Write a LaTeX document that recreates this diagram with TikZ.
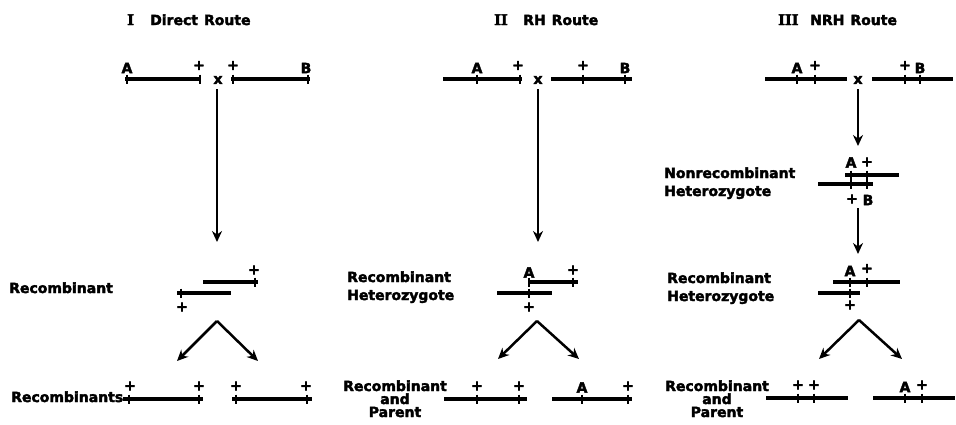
\documentclass[tikz,border=0pt]{standalone}
\usepackage{fontspec}
\setmainfont{DejaVu Sans}
\newfontfamily\hv{DejaVu Sans}[BoldFeatures={FakeBold=2.6}]
\newfontfamily\romannum{DejaVu Serif}[BoldFeatures={FakeBold=2.6}]
\usetikzlibrary{arrows.meta}

\begin{document}
\begin{tikzpicture}[x=1pt,y=-1pt,
  lbl/.style={font=\fontsize{14}{16}\selectfont\hv\bfseries, inner sep=0pt, anchor=base west},
  lblc/.style={font=\fontsize{14}{16}\selectfont\hv\bfseries, inner sep=0pt, anchor=base},
  num/.style={font=\fontsize{14.5}{16}\selectfont\romannum\bfseries, inner sep=0pt, anchor=base west},
  mk/.style={font=\fontsize{14}{15}\selectfont\hv\bfseries, inner sep=0pt},
  chrom/.style={line width=3.4pt},
  tk/.pic={\draw[line width=2.2pt] (0,-4.5) -- (0,4.5);},
  flow/.style={line width=2.5pt, -{Stealth[length=11pt,width=10pt]}},
]
\useasboundingbox (0,0) rectangle (956,424);

% ---------- titles ----------
\node[num] (n1) at (127,25) {I};
\node[lbl] (t1) at (150,25) {Direct\hspace{6pt}Route};
\node[num] (n2) at (494,25) {II};
\node[lbl] (t2) at (523,25) {RH\hspace{6pt}Route};
\node[num] (n3) at (778,25) {III};
\node[lbl] (t3) at (810,25) {NRH\hspace{6pt}Route};

% =====================================================
% I  Direct route
% =====================================================
\draw[chrom] (125,79) -- (201,79);
\pic at (127,79) {tk}; \pic at (200,79) {tk};
\node[mk] (i1a) at (127,68) {A};
\node[mk] (i1p) at (199,65.5) {+};
\node[mk] (i1x) at (218,80) {x};
\draw[chrom] (231,79) -- (310,79);
\pic at (233,79) {tk}; \pic at (308,79) {tk};
\node[mk] (i1q) at (233,65.5) {+};
\node[mk] (i1b) at (306,68) {B};

\coordinate (i0s) at (217,89);
\coordinate (i0e) at (217,242);
\draw[flow] (i0s) -- (i0e);

\node[lbl] (ilab) at (9,293) {Recombinant};
\draw[chrom] (203,282) -- (258,282);
\pic at (255,282) {tk};
\node[mk] (i2p) at (254,270) {+};
\draw[chrom] (177,293) -- (231,293);
\pic at (181,293) {tk};
\node[mk] (i2q) at (182,307) {+};

\coordinate (iv) at (217,321);
\coordinate (ivl) at (177,361);
\coordinate (ivr) at (258,361);
\draw[flow] (iv) -- (ivl);
\draw[flow] (iv) -- (ivr);

\node[lbl] (ilab2) at (11,402) {Recombinants};
\draw[chrom] (123,399) -- (203,399);
\pic at (129,399) {tk}; \pic at (199,399) {tk};
\node[mk] (i3p) at (130,386) {+};
\node[mk] (i3q) at (199,386) {+};
\draw[chrom] (232,399) -- (312,399);
\pic at (236,399) {tk}; \pic at (307,399) {tk};
\node[mk] (i3r) at (236,386) {+};
\node[mk] (i3s) at (306,386) {+};

% =====================================================
% II  RH route
% =====================================================
\draw[chrom] (443,79) -- (522,79);
\pic at (477,79) {tk}; \pic at (520,79) {tk};
\node[mk] (ii1a) at (477,68) {A};
\node[mk] (ii1p) at (518,65.5) {+};
\node[mk] (ii1x) at (538,80) {x};
\draw[chrom] (551,79) -- (632,79);
\pic at (583,79) {tk}; \pic at (625,79) {tk};
\node[mk] (ii1q) at (583,65.5) {+};
\node[mk] (ii1b) at (625,68) {B};

\coordinate (ii0s) at (538,89);
\coordinate (ii0e) at (538,242);
\draw[flow] (ii0s) -- (ii0e);

\node[lbl] (iilab) at (347,282) {Recombinant};
\node[lbl] (iilab2) at (347,300) {Heterozygote};
\draw[chrom] (529,282) -- (578,282);
\pic at (529,282) {tk}; \pic at (573,282) {tk};
\node[mk] (ii2a) at (529,272.5) {A};
\node[mk] (ii2p) at (573,270) {+};
\draw[chrom] (497,293) -- (552,293);
\pic at (529,293) {tk};
\node[mk] (ii2q) at (529,307) {+};

\coordinate (iiv) at (537,321);
\coordinate (iivl) at (498,359);
\coordinate (iivr) at (579,359);
\draw[flow] (iiv) -- (iivl);
\draw[flow] (iiv) -- (iivr);

\node[lblc] (iilab3) at (395,391) {Recombinant};
\node[lblc] (iilab4) at (395,404) {and};
\node[lblc] (iilab5) at (395,417) {Parent};
\draw[chrom] (444,399) -- (527,399);
\pic at (477,399) {tk}; \pic at (519,399) {tk};
\node[mk] (ii3p) at (477,386) {+};
\node[mk] (ii3q) at (519,386) {+};
\draw[chrom] (552,399) -- (632,399);
\pic at (582,399) {tk}; \pic at (628,399) {tk};
\node[mk] (ii3a) at (582,387.5) {A};
\node[mk] (ii3r) at (628,386) {+};

% =====================================================
% III  NRH route
% =====================================================
\draw[chrom] (765,79) -- (847,79);
\pic at (797,79) {tk}; \pic at (815,79) {tk};
\node[mk] (iii1a) at (797,68) {A};
\node[mk] (iii1p) at (815,65.5) {+};
\node[mk] (iii1x) at (858,80) {x};
\draw[chrom] (872,79) -- (953,79);
\pic at (905,79) {tk}; \pic at (920,79) {tk};
\node[mk] (iii1q) at (905,65.5) {+};
\node[mk] (iii1b) at (920,68) {B};

\coordinate (iii0s) at (858,89);
\coordinate (iii0e) at (858,146);
\draw[flow] (iii0s) -- (iii0e);

% nonrecombinant heterozygote
\node[lbl] (iiilab) at (664,178) {Nonrecombinant};
\node[lbl] (iiilab2) at (664,196) {Heterozygote};
\node[mk] (iiina) at (851,162.5) {A};
\node[mk] (iiinp) at (867,162) {+};
\draw[chrom] (845,175) -- (899,175);
\pic at (851,175) {tk}; \pic at (867,175) {tk};
\draw[chrom] (818,184) -- (873,184);
\pic at (851,184) {tk}; \pic at (867,184) {tk};
\node[mk] (iiinq) at (852,199) {+};
\node[mk] (iiinb) at (868,200) {B};

\coordinate (iiims) at (858,208);
\coordinate (iiime) at (858,254);
\draw[flow] (iiims) -- (iiime);

% recombinant heterozygote
\node[lbl] (iiilab3) at (667,283) {Recombinant};
\node[lbl] (iiilab4) at (667,301) {Heterozygote};
\node[mk] (iii2a) at (850,271) {A};
\node[mk] (iii2p) at (867,268.5) {+};
\draw[chrom] (833,282) -- (900,282);
\pic at (850,282) {tk}; \pic at (867,282) {tk};
\draw[chrom] (818,293) -- (860,293);
\pic at (850,293) {tk};
\node[mk] (iii2q) at (850,305) {+};

\coordinate (iiiv) at (859,320);
\coordinate (iiivl) at (819,359);
\coordinate (iiivr) at (902,359);
\draw[flow] (iiiv) -- (iiivl);
\draw[flow] (iiiv) -- (iiivr);

\node[lblc] (iiilab5) at (717,391) {Recombinant};
\node[lblc] (iiilab6) at (717,404) {and};
\node[lblc] (iiilab7) at (717,417) {Parent};
\draw[chrom] (766,398) -- (848,398);
\pic at (798,398) {tk}; \pic at (814,398) {tk};
\node[mk] (iii3p) at (798,385) {+};
\node[mk] (iii3q) at (814,385) {+};
\draw[chrom] (873,398) -- (955,398);
\pic at (905,398) {tk}; \pic at (922,398) {tk};
\node[mk] (iii3a) at (905,387) {A};
\node[mk] (iii3r) at (922,385) {+};
\end{tikzpicture}
\end{document}
